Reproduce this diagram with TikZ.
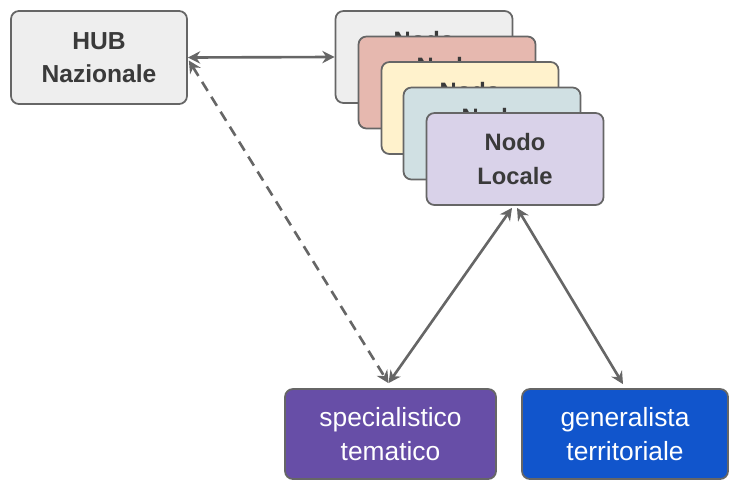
\documentclass[tikz,border=0pt]{standalone}
\usepackage{fontspec}
\setmainfont{Liberation Sans}
\usetikzlibrary{arrows.meta,positioning}
\definecolor{linegray}{HTML}{666666}
\definecolor{textgray}{HTML}{3A3A3A}
\definecolor{hubfill}{HTML}{EEEEEE}
\definecolor{nodoA}{HTML}{EEEEEE}
\definecolor{nodoB}{HTML}{E6B8AF}
\definecolor{nodoC}{HTML}{FFF2CC}
\definecolor{nodoD}{HTML}{D0E0E3}
\definecolor{nodoE}{HTML}{D9D2E9}
\definecolor{specfill}{HTML}{674EA7}
\definecolor{genfill}{HTML}{1155CC}
\tikzset{
    x=0.02cm, y=-0.02cm,
    box/.style = {draw=linegray, line width=1pt, rounded corners=4.5pt,
                  align=center, inner sep=0pt},
    hubbox/.style = {box, fill=hubfill, minimum width=3.52cm, minimum height=1.86cm,
                     text=textgray, font=\bfseries\fontsize{14}{18.5}\selectfont},
    nodobox/.style = {box, minimum width=3.54cm, minimum height=1.84cm,
                      text=textgray, font=\bfseries\fontsize{13.5}{19}\selectfont},
    leafbox/.style = {box, minimum height=1.8cm, text=white,
                      font=\fontsize{15}{19}\selectfont},
    link/.style = {draw=linegray, line width=1.5pt,
                   {Stealth[length=7pt,width=7pt]}-{Stealth[length=7pt,width=7pt]}},
    dashlink/.style = {link, dash pattern=on 6pt off 4pt}
}
\begin{document}
\begin{tikzpicture}
    \useasboundingbox (0,0) rectangle (729,480);

    \node[hubbox] (hub) at (99,57.5) {HUB\\Nazionale};

    % pila dei nodi locali
    \node[nodobox, fill=nodoA] (n1) at (424,57) {Nodo\\Locale};
    \node[nodobox, fill=nodoB] (n2) at (447,82.5) {Nodo\\Locale};
    \node[nodobox, fill=nodoC] (n3) at (470,108) {Nodo\\Locale};
    \node[nodobox, fill=nodoD] (n4) at (492,133.5) {Nodo\\Locale};
    \node[nodobox, fill=nodoE] (n5) at (515,159) {Nodo\\Locale};

    \node[leafbox, fill=specfill, minimum width=4.22cm] (spec) at (390.5,434) {specialistico\\tematico};
    \node[leafbox, fill=genfill, minimum width=4.12cm] (gen) at (625,434) {generalista\\territoriale};

    \path[link] (hub.east) -- (n1.west);
    \path[dashlink] ([shift={(1,3)}]hub.east) -- ([shift={(-2,-5)}]spec.north);
    \path[link] ([shift={(-3,2)}]n5.south) -- ([shift={(-2,-5)}]spec.north);
    \path[link] ([shift={(2,2)}]n5.south) -- ([shift={(-2,-4)}]gen.north);
\end{tikzpicture}
\end{document}
